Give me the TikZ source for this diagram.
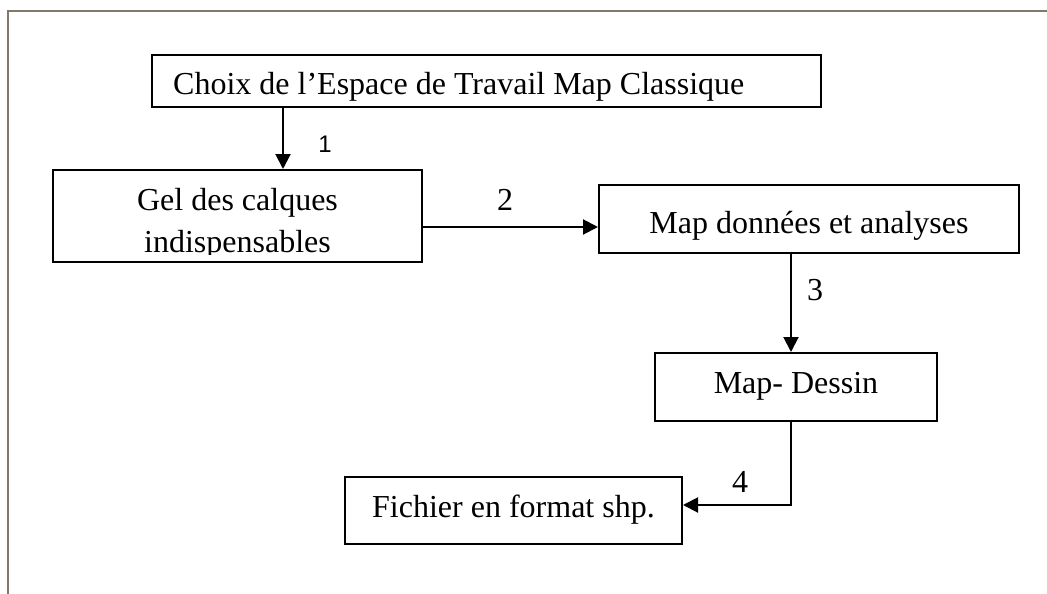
\documentclass[tikz,border=0pt]{standalone}
\usepackage{fontspec}
\setmainfont{Liberation Serif}
\newfontfamily\numsans{Liberation Sans}
\usetikzlibrary{arrows.meta}
\definecolor{framegray}{RGB}{128,120,104}
\begin{document}
\begin{tikzpicture}[x=1pt,y=-1pt,
  box/.style={draw, line width=2pt, inner sep=0pt},
  txt/.style={inner sep=0pt, anchor=base, font=\fontsize{32}{42}\selectfont},
  arr/.style={line width=2pt, -{Triangle[length=15pt,width=15pt]}},
  conn/.style={line width=2pt}]
\useasboundingbox (0,0) rectangle (1047,594);
\draw[framegray, line width=1.5pt] (8,594) -- (8,11) -- (1047,11);

% boxes
\node[box, minimum width=669pt, minimum height=52pt] (choix) at (486.5,81) {};
\node[box, minimum width=369pt, minimum height=92pt] (gel) at (237.5,216) {};
\node[box, minimum width=420pt, minimum height=68pt] (mapda) at (809,219) {};
\node[box, minimum width=282pt, minimum height=68pt] (mapds) at (796,387) {};
\node[box, minimum width=337pt, minimum height=67pt] (fich) at (513.5,510.5) {};

% texts
\node[txt, anchor=base west] (tchoix) at (173,95) {Choix de l’Espace de Travail Map Classique};
\node[txt] (tgel1) at (237.5,210) {Gel des calques};
\begin{scope}
\clip (60,220) rectangle (415,254);
\node[txt] (tgel2) at (237.5,252) {indispensables};
\end{scope}
\node[txt] (tmapda) at (809,233) {Map données et analyses};
\node[txt] (tmapds) at (796,393) {Map- Dessin};
\node[txt] (tfich) at (513.5,517) {Fichier en format shp.};

% connector positions
\coordinate (c1) at (283,0);
\coordinate (c2) at (0,227);
\coordinate (c3) at (791,0);
\coordinate (c4) at (791,505);

\draw[arr] (choix.south -| c1) -- (gel.north -| c1);
\draw[arr] (gel.east |- c2) -- (mapda.west |- c2);
\draw[arr] (mapda.south -| c3) -- (mapds.north -| c3);
\draw[arr] (mapds.south -| c4) -- (c4) -- (fich.east |- c4);

% labels
\node[inner sep=0pt, anchor=base, font=\numsans\fontsize{24}{28}\selectfont] (l1) at (325,152) {1};
\node[txt] (l2) at (505,210) {2};
\node[txt] (l3) at (815,300) {3};
\node[txt] (l4) at (740,492) {4};
\end{tikzpicture}
\end{document}
